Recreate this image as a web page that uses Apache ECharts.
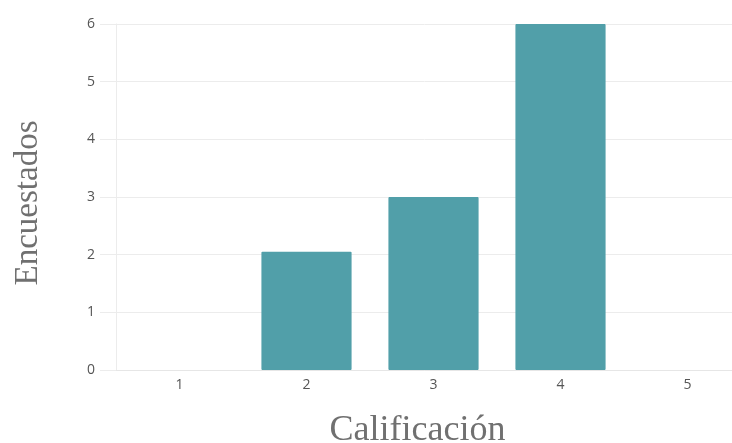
<!DOCTYPE html>
<html><head><meta charset="utf-8">
<script src="https://cdn.jsdelivr.net/npm/echarts@6/dist/echarts.min.js"></script>
<style>html,body{margin:0;padding:0;background:#fff}#c{width:732px;height:443px}</style>
</head><body><div id="c"></div>
<script>
var categories = ['1','2','3','4','5'];
var values = [0, 2.05, 3, 6, 0];
var yTicks = [0,1,2,3,4,5,6];

var chart = echarts.init(document.getElementById('c'));
chart.setOption({
  animation:false,
  grid:{left:116, top:24, width:635, height:346, outerBoundsMode:'none', containLabel:false},
  xAxis:{
    type:'category', data:categories,
    name:'Calificación', nameLocation:'middle', nameGap:43,
    nameTextStyle:{fontFamily:'Liberation Serif', fontSize:36, color:'#707070', padding:[0,0,0,-32]},
    axisLine:{lineStyle:{color:'#e6e6e6'}},
    axisTick:{show:false},
    axisLabel:{color:'#555', fontSize:14, fontFamily:'Open Sans', margin:8}
  },
  yAxis:{
    type:'value', min:0, max:6, interval:1,
    name:'Encuestados', nameLocation:'middle', nameGap:71,
    nameTextStyle:{fontFamily:'Liberation Serif', fontSize:33, color:'#707070', padding:[0,0,0,-12]},
    axisLine:{show:true, lineStyle:{color:'#ececec'}},
    axisTick:{show:true, length:16, lineStyle:{color:'#ececec'}},
    axisLabel:{color:'#555', fontSize:14, fontFamily:'Open Sans', margin:21},
    splitLine:{lineStyle:{color:'#ececec'}}
  },
  series:[{
    type:'bar', data:values, barWidth:'71%',
    itemStyle:{color:'#519FA9', borderRadius:[1,1,1,1]}
  }]
});
</script></body></html>
